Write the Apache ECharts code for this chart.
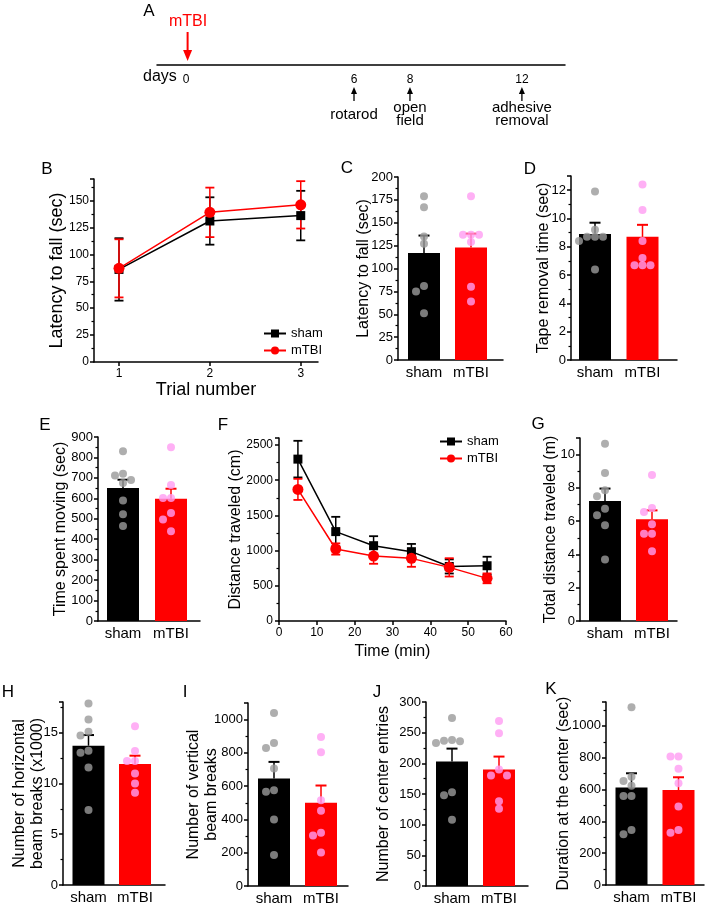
<!DOCTYPE html>
<html>
<head>
<meta charset="utf-8">
<title>mTBI behaviour panels</title>
<script src="https://cdn.jsdelivr.net/npm/echarts@6.0.0/dist/echarts.min.js"></script>
<style>
  html, body { margin: 0; padding: 0; background: #fff; }
  #main { width: 708px; height: 906px; }
</style>
</head>
<body>
<div id="main"></div>
<script>
// ---------------- data ----------------
const groups = ['sham', 'mTBI']

// A: experiment timeline (days)
const dayTicks = [0, 6, 8, 12]
const injuryDay = 0
const testDays = [6, 8, 12]
const testNames = ['rotarod', 'open\nfield', 'adhesive\nremoval']

// B: rotarod latency per trial
const trials = [1, 2, 3]
const rotaShamMean = [86, 131, 136]
const rotaShamSem = [29, 22, 23]
const rotaTbiMean = [87, 139, 146]
const rotaTbiSem = [27, 23, 22]

// C: latency to fall
const latencyMean = [117, 123]
const latencySem = [19, 15]
const latencySham = [179, 167, 135, 127, 81, 75, 51]
const latencyTbi = [179, 137, 137, 137, 129, 80, 64]

// D: tape removal time
const tapeMean = [8.9, 8.7]
const tapeSem = [0.8, 0.85]
const tapeSham = [11.9, 9.2, 8.7, 8.7, 8.7, 8.4, 6.4]
const tapeTbi = [12.4, 10.6, 8.4, 7.2, 6.7, 6.7, 6.7]

// E: time spent moving
const movingMean = [650, 598]
const movingSem = [41, 49]
const movingSham = [830, 720, 712, 690, 675, 590, 522, 465]
const movingTbi = [850, 665, 602, 602, 528, 497, 439]

// F: distance traveled per 10 min bin
const timeBins = [5, 15, 25, 35, 45, 55]
const distShamMean = [2300, 1270, 1070, 985, 775, 785]
const distShamSem = [260, 210, 135, 110, 100, 128]
const distTbiMean = [1870, 1023, 923, 890, 762, 606]
const distTbiSem = [150, 80, 110, 120, 130, 70]

// G: total distance traveled
const totalMean = [7.21, 6.11]
const totalSem = [0.75, 0.54]
const totalSham = [10.66, 8.9, 7.86, 7.5, 6.75, 6.35, 5.75, 3.7]
const totalTbi = [8.78, 6.79, 6.55, 5.81, 5.25, 5.25, 4.19]

// H: horizontal beam breaks (x1000)
const horizMean = [13.7, 11.9]
const horizSem = [1.05, 0.82]
const horizSham = [17.85, 16.28, 15.07, 14.7, 13.2, 13.0, 11.56, 7.37]
const horizTbi = [15.62, 13.17, 12.2, 12.2, 10.97, 9.99, 9.07]

// I: vertical beam breaks
const vertMean = [646, 500]
const vertSem = [100, 104]
const vertSham = [1040, 860, 830, 706, 576, 566, 400, 186]
const vertTbi = [896, 804, 516, 452, 320, 304, 202]

// J: center entries
const entriesMean = [203, 190]
const entriesSem = [21, 21]
const entriesSham = [274, 238, 237, 236, 233, 153, 148, 108]
const entriesTbi = [269, 249, 190, 180, 180, 138, 126]

// K: duration at the center
const durationMean = [612, 597]
const durationSem = [90, 80]
const durationSham = [1117, 681, 654, 623, 560, 560, 346, 319]
const durationTbi = [807, 807, 730, 639, 493, 346, 329]

// ---------------- layout / style ----------------
const FONT = '"Liberation Sans", Arial, sans-serif'
const BLACK = '#000000'
const RED = '#ff0000'
const GRAY_DOT = '#9a9a9a'
const PINK_DOT = '#ff9cf2'

const chart = echarts.init(document.getElementById('main'), null, { renderer: 'canvas' })

const grid = []
const xAxis = []
const yAxis = []
const series = []

const lineStyle = { color: BLACK, width: 1.5 }
const plainNumber = v => String(v)

function addGrid (L) {
  grid.push({
    left: L.left, top: L.top, width: L.right - L.left, height: L.bottom - L.top,
    containLabel: false, outerBoundsMode: 'none'
  })
  return grid.length - 1
}

function valueYAxis (gi, L, fontSize) {
  return {
    gridIndex: gi, type: 'value', min: 0, max: L.max, interval: L.interval,
    axisLine: { show: true, onZero: false, lineStyle },
    axisTick: { show: true, length: 4, lineStyle },
    minorTick: { show: true, splitNumber: 2, length: 2.5, lineStyle: { color: BLACK, width: 1.2 } },
    splitLine: { show: false },
    axisLabel: {
      fontSize, color: BLACK, fontFamily: FONT, margin: L.labelMargin || 5,
      formatter: plainNumber,
      showMaxLabel: L.max % L.interval === 0
    },
    name: L.name, nameLocation: 'middle', nameGap: L.gap, nameMoveOverlap: false,
    nameTextStyle: { fontSize: L.nameSize || 16, color: BLACK, fontFamily: FONT, lineHeight: 18 }
  }
}

// simple beeswarm: spread dots that would overlap in pixel space
function swarm (values, center, pxPerX, pxPerY) {
  const placed = []
  return values.map(v => {
    const py = v * pxPerY
    let off = 0
    for (let k = 0; k < 14; k++) {
      const cand = k === 0 ? 0 : (k % 2 ? -1 : 1) * Math.ceil(k / 2) * 8
      if (placed.every(p => Math.hypot(p[0] - cand, p[1] - py) >= 7)) { off = cand; break }
    }
    placed.push([off, py])
    return [center + off / pxPerX, v]
  })
}

// bar + SEM + individual dots panel
function barPanel (key, L, mean, sem, shamDots, tbiDots) {
  const gi = addGrid(L)
  const pxX = L.tbi - L.sham
  const pxY = (L.bottom - L.top) / L.max
  xAxis.push({
    gridIndex: gi, type: 'value',
    min: 1 - (L.sham - L.left) / pxX, max: 2 + (L.right - L.tbi) / pxX,
    axisLine: { show: true, onZero: false, lineStyle },
    axisTick: { show: false }, splitLine: { show: false },
    axisLabel: {
      customValues: [1, 2], formatter: v => groups[Math.round(v) - 1] || '',
      fontSize: 15, color: BLACK, fontFamily: FONT, margin: 5
    }
  })
  yAxis.push(valueYAxis(gi, L, 13))
  series.push({
    name: key + '-bars', type: 'bar', xAxisIndex: gi, yAxisIndex: gi, barWidth: 32, silent: true,
    data: [
      { value: [1, mean[0]], itemStyle: { color: BLACK } },
      { value: [2, mean[1]], itemStyle: { color: RED } }
    ]
  })
  series.push({
    name: key + '-sem', type: 'custom', xAxisIndex: gi, yAxisIndex: gi, silent: true,
    data: [[1, mean[0], sem[0]], [2, mean[1], sem[1]]],
    renderItem: (params, api) => {
      const x = api.value(0)
      const m = api.value(1)
      const e = api.value(2)
      const p0 = api.coord([x, m])
      const p1 = api.coord([x, m + e])
      const color = params.dataIndex === 0 ? BLACK : RED
      return {
        type: 'group',
        children: [
          { type: 'line', shape: { x1: p0[0], y1: p0[1], x2: p1[0], y2: p1[1] }, style: { stroke: color, lineWidth: 1.5 } },
          { type: 'line', shape: { x1: p1[0] - 5.5, y1: p1[1], x2: p1[0] + 5.5, y2: p1[1] }, style: { stroke: color, lineWidth: 2 } }
        ]
      }
    }
  })
  series.push({
    name: key + '-shamDots', type: 'scatter', xAxisIndex: gi, yAxisIndex: gi, silent: true,
    symbolSize: 8, itemStyle: { color: GRAY_DOT }, data: swarm(shamDots, 1, pxX, pxY)
  })
  series.push({
    name: key + '-tbiDots', type: 'scatter', xAxisIndex: gi, yAxisIndex: gi, silent: true,
    symbolSize: 8, itemStyle: { color: PINK_DOT }, data: swarm(tbiDots, 2, pxX, pxY)
  })
}

// mean +/- SEM line panel
function errSeries (gi, xs, mean, sem, color, cap) {
  return {
    type: 'custom', xAxisIndex: gi, yAxisIndex: gi, silent: true,
    data: xs.map((x, i) => [x, mean[i], sem[i]]),
    renderItem: (params, api) => {
      const x = api.value(0)
      const m = api.value(1)
      const e = api.value(2)
      const lo = api.coord([x, m - e])
      const hi = api.coord([x, m + e])
      return {
        type: 'group',
        children: [
          { type: 'line', shape: { x1: lo[0], y1: lo[1], x2: hi[0], y2: hi[1] }, style: { stroke: color, lineWidth: 1.5 } },
          { type: 'line', shape: { x1: hi[0] - cap, y1: hi[1], x2: hi[0] + cap, y2: hi[1] }, style: { stroke: color, lineWidth: 1.8 } },
          { type: 'line', shape: { x1: lo[0] - cap, y1: lo[1], x2: lo[0] + cap, y2: lo[1] }, style: { stroke: color, lineWidth: 1.8 } }
        ]
      }
    }
  }
}

function linePanel (L, xs, shamMean, shamSem, tbiMean, tbiSem) {
  const gi = addGrid(L)
  xAxis.push({
    gridIndex: gi, type: 'value', min: L.xMin, max: L.xMax, interval: L.xInterval,
    axisLine: { show: true, onZero: false, lineStyle },
    axisTick: { show: true, length: 4, lineStyle, customValues: L.xTicks },
    splitLine: { show: false },
    axisLabel: { customValues: L.xTicks, formatter: plainNumber, fontSize: 12, color: BLACK, fontFamily: FONT, margin: 6 },
    name: L.xName, nameLocation: 'middle', nameGap: L.xGap,
    nameTextStyle: { fontSize: L.nameSize, color: BLACK, fontFamily: FONT }
  })
  yAxis.push(valueYAxis(gi, L, 12))
  series.push(errSeries(gi, xs, shamMean, shamSem, BLACK, 4.5))
  series.push({
    name: 'sham', type: 'line', xAxisIndex: gi, yAxisIndex: gi, silent: true,
    symbol: 'rect', symbolSize: 9, color: BLACK,
    lineStyle: { color: BLACK, width: 1.5 }, itemStyle: { color: BLACK },
    data: xs.map((x, i) => [x, shamMean[i]])
  })
  series.push(errSeries(gi, xs, tbiMean, tbiSem, RED, 4.5))
  series.push({
    name: 'mTBI', type: 'line', xAxisIndex: gi, yAxisIndex: gi, silent: true,
    symbol: 'circle', symbolSize: 11, color: RED,
    lineStyle: { color: RED, width: 1.5 }, itemStyle: { color: RED },
    data: xs.map((x, i) => [x, tbiMean[i]])
  })
}

// ---------------- panel A: timeline ----------------
const gA = addGrid({ left: 157, right: 565, top: 25, bottom: 65 })
xAxis.push({
  gridIndex: gA, type: 'value', min: -1.04, max: 13.54,
  axisLine: { show: true, onZero: false, lineStyle },
  axisTick: { show: false }, splitLine: { show: false },
  axisLabel: { customValues: dayTicks, fontSize: 12, color: BLACK, fontFamily: FONT, margin: 9 }
})
yAxis.push({ gridIndex: gA, type: 'value', min: 0, max: 1, show: false })
series.push({
  name: 'tests', type: 'custom', xAxisIndex: gA, yAxisIndex: gA, silent: true,
  data: testDays.map((d, i) => [d, 0, i]),
  renderItem: (params, api) => {
    const p = api.coord([api.value(0), 0])
    const i = api.value(2)
    return {
      type: 'group',
      children: [
        { type: 'line', shape: { x1: p[0], y1: p[1] + 36, x2: p[0], y2: p[1] + 27 }, style: { stroke: BLACK, lineWidth: 1.3 } },
        { type: 'polygon', shape: { points: [[p[0], p[1] + 22], [p[0] - 3, p[1] + 29], [p[0] + 3, p[1] + 29]] }, style: { fill: BLACK } },
        {
          type: 'text', x: p[0], y: p[1] + 49.5,
          style: { text: testNames[i], fontSize: 15, fontFamily: FONT, fill: BLACK, align: 'center', verticalAlign: 'middle', lineHeight: 13 }
        }
      ]
    }
  }
})
series.push({
  name: 'injury', type: 'custom', xAxisIndex: gA, yAxisIndex: gA, silent: true,
  data: [[injuryDay, 0]],
  renderItem: (params, api) => {
    const p = api.coord([api.value(0), 0])
    return {
      type: 'group',
      children: [
        { type: 'line', shape: { x1: p[0] + 1.5, y1: p[1] - 33, x2: p[0] + 1.5, y2: p[1] - 12 }, style: { stroke: RED, lineWidth: 2 } },
        { type: 'polygon', shape: { points: [[p[0] + 1.5, p[1] - 4], [p[0] - 3, p[1] - 15], [p[0] + 6, p[1] - 15]] }, style: { fill: RED } },
        {
          type: 'text', x: p[0] + 2, y: p[1] - 43,
          style: { text: 'mTBI', fontSize: 16, fontFamily: FONT, fill: RED, align: 'center', verticalAlign: 'middle' }
        }
      ]
    }
  }
})

// ---------------- panels B-K ----------------
linePanel({
  left: 94, right: 318, top: 179, bottom: 362, xMin: 0.725, xMax: 3.19, xTicks: trials,
  max: 170, interval: 25, name: 'Latency to fall (sec)', gap: 28, nameSize: 18, labelMargin: 5,
  xName: 'Trial number', xGap: 17
}, trials, rotaShamMean, rotaShamSem, rotaTbiMean, rotaTbiSem)

barPanel('C', { left: 398, right: 503, top: 177, bottom: 360, max: 200, interval: 25, sham: 424, tbi: 471, name: 'Latency to fall (sec)', gap: 25 },
  latencyMean, latencySem, latencySham, latencyTbi)
barPanel('D', { left: 571, right: 677, top: 176, bottom: 360, max: 13, interval: 2, sham: 595, tbi: 642.5, name: 'Tape removal time (sec)', gap: 18 },
  tapeMean, tapeSem, tapeSham, tapeTbi)
barPanel('E', { left: 98, right: 200, top: 437, bottom: 621, max: 900, interval: 100, sham: 123, tbi: 171, name: 'Time spent moving (sec)', gap: 28 },
  movingMean, movingSem, movingSham, movingTbi)

linePanel({
  left: 279, right: 506, top: 438, bottom: 621, xMin: 0, xMax: 60, xInterval: 10, xTicks: [0, 10, 20, 30, 40, 50, 60],
  max: 2600, interval: 500, name: 'Distance traveled (cm)', gap: 34, nameSize: 16, labelMargin: 6,
  xName: 'Time (min)', xGap: 23
}, timeBins, distShamMean, distShamSem, distTbiMean, distTbiSem)

barPanel('G', { left: 580, right: 677, top: 438, bottom: 621, max: 11, interval: 2, sham: 605, tbi: 652, name: 'Total distance traveled (m)', gap: 20 },
  totalMean, totalSem, totalSham, totalTbi)
barPanel('H', { left: 63, right: 165, top: 702, bottom: 885, max: 18, interval: 5, sham: 88.5, tbi: 135, name: 'Number of horizontal\nbeam breaks (x1000)', gap: 16 },
  horizMean, horizSem, horizSham, horizTbi)
barPanel('I', { left: 248, right: 348, top: 703, bottom: 886, max: 1100, interval: 200, sham: 274, tbi: 321, name: 'Number of vertical\nbeam breaks', gap: 27 },
  vertMean, vertSem, vertSham, vertTbi)
barPanel('J', { left: 426, right: 528, top: 702, bottom: 886, max: 300, interval: 50, sham: 452, tbi: 499, name: 'Number of center entries', gap: 33 },
  entriesMean, entriesSem, entriesSham, entriesTbi)
barPanel('K', { left: 606, right: 704, top: 702, bottom: 885, max: 1150, interval: 200, sham: 631.5, tbi: 678.5, name: 'Duration at the center (sec)', gap: 33 },
  durationMean, durationSem, durationSham, durationTbi)

// panel letters and loose text
const letters = [
  ['A', 149, 11], ['B', 47, 169], ['C', 347, 168], ['D', 530, 169],
  ['E', 45, 425], ['F', 223, 425], ['G', 538, 424],
  ['H', 8, 692], ['I', 185, 692], ['J', 377, 692], ['K', 551, 689]
]
const graphic = letters.map(([t, x, y]) => ({
  type: 'text', x, y, silent: true,
  style: { text: t, fontSize: 17, fontFamily: FONT, fill: BLACK, align: 'center', verticalAlign: 'middle' }
}))
graphic.push({
  type: 'text', x: 143, y: 77, silent: true,
  style: { text: 'days', fontSize: 16, fontFamily: FONT, fill: BLACK, align: 'left', verticalAlign: 'middle' }
})

const legendCommon = {
  orient: 'vertical', itemWidth: 22, itemHeight: 10, itemGap: 4, selectedMode: false,
  data: ['sham', 'mTBI'], textStyle: { fontSize: 13, color: BLACK, fontFamily: FONT }, padding: 0
}

chart.setOption({
  backgroundColor: '#ffffff',
  animation: false,
  textStyle: { fontFamily: FONT },
  grid,
  xAxis,
  yAxis,
  legend: [
    Object.assign({ left: 263, top: 327 }, legendCommon),
    Object.assign({ left: 439, top: 435 }, legendCommon)
  ],
  graphic,
  series
})
</script>
</body>
</html>
